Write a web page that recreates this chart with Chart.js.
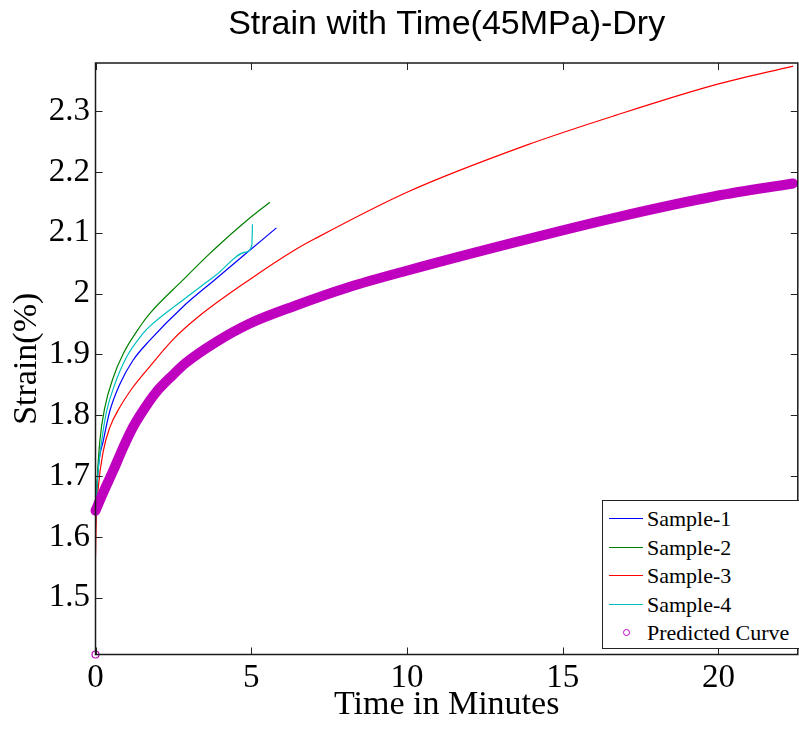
<!DOCTYPE html>
<html lang="en">
<head>
    <meta charset="UTF-8">
    <title>Strain with Time(45MPa)-Dry</title>
    <style>
        body {
            margin: 0;
            padding: 0;
            background: #fff;
            overflow: hidden;
        }

        /* the original figure is cut a few pixels into its right border */
        .wrap {
            position: relative;
            width: 799px;
            height: 729px;
            overflow: hidden;
        }

        #legend {
            position: absolute;
            left: 602px;
            top: 500px;
            width: 230px;
            height: 147px;
            border: 1.5px solid #222;
            background: #fff;
            font-family: "Liberation Serif", "Times New Roman", serif;
            font-size: 22px;
            color: #000;
        }

        #legend .row {
            position: absolute;
            left: 0;
            height: 28px;
            line-height: 28px;
            white-space: nowrap;
        }

        #legend .mark {
            position: absolute;
            left: 6px;
            top: 13px;
            width: 34px;
            height: 1px;
        }

        #legend .circle {
            position: absolute;
            left: 20px;
            top: 10px;
            width: 5px;
            height: 5px;
            border: 1.2px solid;
            border-radius: 50%;
        }

        #legend .label {
            position: absolute;
            left: 44px;
            top: 0;
        }
    </style>
</head>
<body>
    <div class="wrap">
        <canvas id="strainChart" width="803" height="729"></canvas>
        <div id="legend"></div>
    </div>

    <script src="https://cdn.jsdelivr.net/npm/chart.js"></script>
    <script>
        // values (time in minutes, strain in %)
        const sample1Time   = [0, 0.03, 0.09, 0.25, 0.46, 0.78, 1.2, 1.74, 2.8, 3.86, 4.81, 5.81];
        const sample1Strain = [1.615, 1.66, 1.714, 1.758, 1.807, 1.851, 1.89, 1.923, 1.978, 2.024, 2.065, 2.108];

        const sample2Time   = [0, 0.04, 0.14, 0.3, 0.57, 0.89, 1.42, 1.74, 2.8, 3.59, 4.01, 5.07, 5.6];
        const sample2Strain = [1.63, 1.681, 1.758, 1.813, 1.862, 1.901, 1.945, 1.967, 2.022, 2.062, 2.082, 2.129, 2.15];

        const sample3Time   = [0, 0.02, 0.09, 0.25, 0.46, 0.78, 1.2, 1.74, 2.48, 3.33, 4.92, 6.41, 7.04, 10.02, 13.84, 16.7, 19.89, 22.4];
        const sample3Strain = [1.566, 1.62, 1.681, 1.741, 1.78, 1.813, 1.846, 1.88, 1.924, 1.963, 2.022, 2.072, 2.09, 2.167, 2.244, 2.293, 2.343, 2.374];

        const sample4Time   = [0, 0.06, 0.2, 0.36, 0.62, 0.99, 1.52, 1.74, 2.8, 3.86, 4.81, 5.02, 5.04];
        const sample4Strain = [1.625, 1.692, 1.758, 1.807, 1.851, 1.895, 1.934, 1.946, 1.989, 2.03, 2.068, 2.079, 2.114];

        // first predicted point is the lone circle at the bottom corner, null breaks the line
        const predTime   = [0, 0, 0, 0.25, 0.57, 0.89, 1.2, 1.52, 1.95, 2.48, 2.9, 3.86, 4.92, 6.41, 8.1, 10.02, 13.52, 16.7, 19.89, 22.4];
        const predStrain = [1.4067, null, 1.643, 1.673, 1.709, 1.747, 1.78, 1.807, 1.838, 1.866, 1.886, 1.92, 1.95, 1.98, 2.01, 2.038, 2.085, 2.125, 2.16, 2.181];

        const xTicks = [0, 5, 10, 15, 20];
        const yTicks = [1.5, 1.6, 1.7, 1.8, 1.9, 2.0, 2.1, 2.2, 2.3];

        function toPoints(xs, ys) {
            return xs.map((x, i) => ({ x: x, y: ys[i] }));
        }

        const serif = 'Liberation Serif';

        // MATLAB style: tick marks pointing inwards on all four sides, plus the box
        const boxTicks = {
            id: 'boxTicks',
            afterDraw(chart) {
                const { ctx, chartArea: a, scales } = chart;
                ctx.save();
                ctx.strokeStyle = '#222';
                ctx.lineWidth = 1;
                ctx.beginPath();
                xTicks.forEach(v => {
                    const px = Math.round(scales.x.getPixelForValue(v)) + 0.5;
                    ctx.moveTo(px, a.bottom); ctx.lineTo(px, a.bottom - 7);
                    ctx.moveTo(px, a.top); ctx.lineTo(px, a.top + 7);
                });
                yTicks.forEach(v => {
                    const py = Math.round(scales.y.getPixelForValue(v)) + 0.5;
                    ctx.moveTo(a.left, py); ctx.lineTo(a.left + 7, py);
                    ctx.moveTo(a.right, py); ctx.lineTo(a.right - 7, py);
                });
                ctx.stroke();
                ctx.lineWidth = 1.5;
                ctx.strokeStyle = '#1a1a1a';
                ctx.strokeRect(a.left, a.top, a.right - a.left, a.bottom - a.top);
                ctx.restore();
            }
        };

        // later samples are drawn on top, as in the original figure
        const lineSet = (label, xs, ys, color, order) => ({
            label: label,
            data: toPoints(xs, ys),
            showLine: true,
            borderColor: color,
            backgroundColor: color,
            borderWidth: 1.2,
            pointRadius: 0,
            cubicInterpolationMode: 'monotone',
            order: order
        });

        const datasets = [
            lineSet('Sample-1', sample1Time, sample1Strain, '#0000ff', 5),
            lineSet('Sample-2', sample2Time, sample2Strain, '#008000', 4),
            lineSet('Sample-3', sample3Time, sample3Strain, '#ff0000', 3),
            lineSet('Sample-4', sample4Time, sample4Strain, '#00bfbf', 2),
            {
                label: 'Predicted Curve',
                data: toPoints(predTime, predStrain),
                showLine: true,
                spanGaps: false,
                borderColor: '#bf00bf',
                backgroundColor: 'rgba(0,0,0,0)',
                borderWidth: 10,
                borderCapStyle: 'round',
                cubicInterpolationMode: 'monotone',
                pointStyle: 'circle',
                pointRadius: c => c.dataIndex === 0 ? 3.5 : 0,
                pointBorderWidth: 1.2,
                pointBorderColor: '#bf00bf',
                clip: 8,
                order: 1
            }
        ];

        const strainChart = new Chart(document.getElementById('strainChart'), {
            type: 'scatter',
            data: { datasets: datasets },
            options: {
                responsive: false,
                animation: false,
                layout: { padding: 0 },
                plugins: {
                    legend: { display: false },
                    tooltip: { enabled: false },
                    title: {
                        display: true,
                        fullSize: false,
                        text: 'Strain with Time(45MPa)-Dry',
                        color: '#000',
                        font: { family: 'Liberation Sans', size: 34, weight: 'normal' },
                        padding: { top: 4.6, bottom: 17.6 }
                    }
                },
                scales: {
                    x: {
                        type: 'linear',
                        min: 0,
                        max: 22.55,
                        grid: { display: false, drawTicks: false },
                        border: { display: false },
                        afterFit: s => { s.height = 74.5; },
                        afterBuildTicks: s => { s.ticks = xTicks.map(v => ({ value: v })); },
                        ticks: {
                            padding: 4,
                            color: '#000',
                            font: { family: serif, size: 33 },
                            maxRotation: 0
                        },
                        title: {
                            display: true,
                            text: 'Time in Minutes',
                            color: '#000',
                            font: { family: serif, size: 34 },
                            padding: { top: 0, bottom: 4 }
                        }
                    },
                    y: {
                        type: 'linear',
                        min: 1.4067,
                        max: 2.379,
                        grid: { display: false, drawTicks: false },
                        border: { display: false },
                        afterFit: s => { s.width = 95.5; },
                        afterBuildTicks: s => { s.ticks = yTicks.map(v => ({ value: v })); },
                        ticks: {
                            padding: 5.5,
                            color: '#000',
                            font: { family: serif, size: 33 },
                            callback: v => String(Math.round(v * 10) / 10)
                        },
                        title: {
                            display: true,
                            text: 'Strain(%)',
                            color: '#000',
                            font: { family: serif, size: 34 },
                            padding: { top: 7, bottom: 0 }
                        }
                    }
                }
            },
            plugins: [boxTicks]
        });

        // legend box drawn as html, entries taken from the datasets
        const legend = document.getElementById('legend');
        strainChart.data.datasets.forEach((ds, i) => {
            const row = document.createElement('div');
            row.className = 'row';
            row.style.top = Math.round(4 + i * 28.5) + 'px';
            const mark = document.createElement('span');
            if (i === 4) {
                mark.className = 'circle';
                mark.style.borderColor = ds.borderColor;
            } else {
                mark.className = 'mark';
                mark.style.backgroundColor = ds.borderColor;
            }
            const text = document.createElement('span');
            text.className = 'label';
            text.textContent = ds.label;
            row.appendChild(mark);
            row.appendChild(text);
            legend.appendChild(row);
        });
    </script>
</body>
</html>
